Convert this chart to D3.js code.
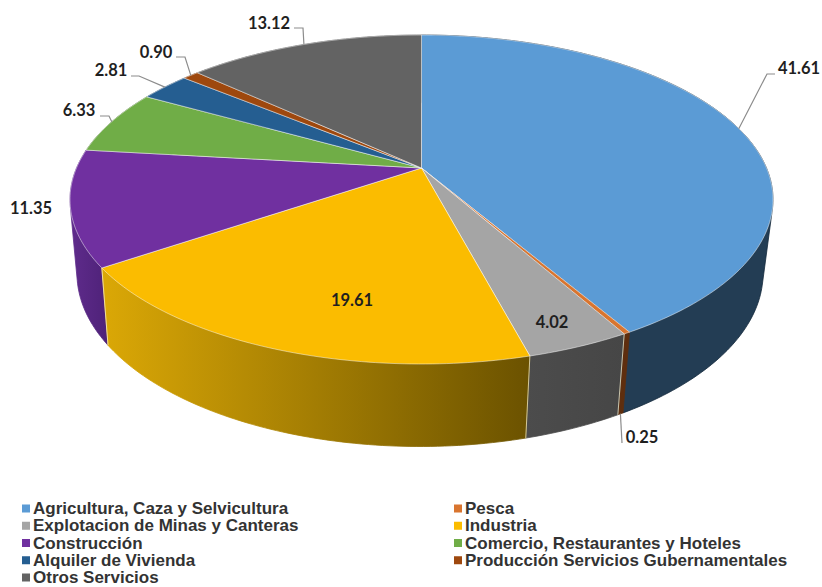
<!DOCTYPE html>
<html>
<head>
<meta charset="utf-8">
<script src="https://cdn.jsdelivr.net/npm/d3@7"></script>
<style>
  html, body { margin: 0; background: #fff; }
  svg { display: block; }
  .value { font-family: Lato, sans-serif; font-weight: 700; font-size: 16.5px; fill: #1f1f1f; }
  .legend { font-family: "Liberation Sans", sans-serif; font-weight: 700; font-size: 17px; fill: #333; }
</style>
</head>
<body>
<svg id="chart" width="822" height="587"></svg>
<script>
const categories = [
  "Agricultura, Caza y Selvicultura", "Pesca",
  "Explotacion de Minas y Canteras", "Industria",
  "Construcción", "Comercio, Restaurantes y Hoteles",
  "Alquiler de Vivienda", "Producción Servicios Gubernamentales",
  "Otros Servicios"
];
const values = [41.61, 0.25, 4.02, 19.61, 11.35, 6.33, 2.81, 0.90, 13.12];
const topColors = ["#5b9bd5", "#d9752f", "#a5a5a5", "#fbbc00", "#7030a0", "#70ad47", "#255e91", "#9e480e", "#636363"];
const sideFrom = ["#233d54", "#5e2e0e", "#4c4c4c", "#dba806", "#5f2b8c", "#4f7a32", "#1a4268", "#6a3009", "#444"];
const sideTo = ["#233d54", "#5e2e0e", "#464646", "#6b5200", "#4e2278", "#4f7a32", "#1a4268", "#6a3009", "#444"];

// label placement: text centre, then the leader's elbow points (none = no leader)
const labelSpots = [
  { x: 799, y: 68, elbow: [[767, 74], [775, 74]] },
  { x: 642, y: 437, elbow: [[622, 443]] },
  { x: 552, y: 322 },
  { x: 352, y: 300 },
  { x: 31, y: 208 },
  { x: 79, y: 110, elbow: [[109, 116], [100, 116]] },
  { x: 111, y: 70, elbow: [[139, 76], [131, 76]] },
  { x: 156, y: 52, elbow: [[185, 57], [176, 57]] },
  { x: 269, y: 23, elbow: [[303, 28], [294, 28]] }
];

const svg = d3.select("#chart");
const defs = svg.append("defs");
const color = d3.scaleOrdinal(categories, topColors);

const slices = d3.pie().value(d => d).sort(null).startAngle(0).endAngle(2 * Math.PI)(values);

// perspective disc: angle 0 is at the back, clockwise as seen from above
const persp = -0.1915;
function disc(cx, k, a, b) {
  return t => {
    const u = Math.sin(t), v = -Math.cos(t), w = 1 + persp * v;
    return [cx + k * u / w, (a * v + b) / w];
  };
}
const topRim = disc(421.5, 345, 126.3, 168);
const bottomRim = disc(420, 336.7, 121, 240);
const apex = [421.5, 168];

function arcPoints(rim, s) {
  const n = Math.max(2, Math.ceil((s.endAngle - s.startAngle) * 60));
  return d3.range(n + 1).map(i => rim(s.startAngle + (s.endAngle - s.startAngle) * i / n));
}
const line = d3.line();

// side wall, front slices over back ones
const sideOrder = d3.range(slices.length).sort((i, j) => {
  const depth = s => -Math.cos((s.startAngle + s.endAngle) / 2);
  return depth(slices[i]) - depth(slices[j]);
});
sideOrder.forEach(i => {
  const s = slices[i];
  const hull = d3.polygonHull(arcPoints(topRim, s).concat(arcPoints(bottomRim, s)));
  const xs = hull.map(p => p[0]);
  const grad = defs.append("linearGradient")
    .attr("id", "side" + i)
    .attr("gradientUnits", "userSpaceOnUse")
    .attr("x1", d3.min(xs)).attr("x2", d3.max(xs)).attr("y1", 0).attr("y2", 0);
  grad.append("stop").attr("offset", 0).attr("stop-color", sideFrom[i]);
  grad.append("stop").attr("offset", 1).attr("stop-color", sideTo[i]);
  svg.append("path")
    .attr("d", line(hull) + "Z")
    .attr("fill", `url(#side${i})`)
    .attr("stroke", i === 0 ? "#13283b" : `url(#side${i})`)
    .attr("stroke-width", 0.8);
});

// pale seams where the front wall changes colour
[2, 3, 4].forEach(i => {
  const t = slices[i].startAngle;
  svg.append("path")
    .attr("d", line([topRim(t), bottomRim(t)]))
    .attr("stroke", "rgba(255,250,215,0.7)")
    .attr("stroke-width", 1)
    .attr("fill", "none");
});

// top face
slices.forEach((s, i) => {
  svg.append("path")
    .attr("d", line([apex, ...arcPoints(topRim, s)]) + "Z")
    .attr("fill", color(categories[i]))
    .attr("stroke", "rgba(255,255,255,0.6)")
    .attr("stroke-width", 0.8)
    .attr("stroke-linejoin", "round");
});

// leaders and value labels
slices.forEach((s, i) => {
  const spot = labelSpots[i];
  if (spot.elbow) {
    const mid = (s.startAngle + s.endAngle) / 2;
    const start = i === 1 ? bottomRim(mid) : topRim(mid);
    svg.append("path")
      .attr("d", line([start, ...spot.elbow]))
      .attr("fill", "none")
      .attr("stroke", "#8c8c8c")
      .attr("stroke-width", 1.2);
  }
  svg.append("text")
    .attr("class", "value")
    .attr("x", spot.x)
    .attr("y", spot.y)
    .attr("text-anchor", "middle")
    .attr("dominant-baseline", "central")
    .text(values[i].toFixed(2));
});

// legend, two columns
const legendCol = d3.scalePoint().domain([0, 1]).range([22, 454]);
const legendRow = d3.scaleLinear().domain([0, 4]).range([508.5, 577.5]);
categories.forEach((name, i) => {
  const x = legendCol(i % 2), y = legendRow(Math.floor(i / 2));
  svg.append("rect")
    .attr("x", x).attr("y", y - 4)
    .attr("width", 8).attr("height", 8)
    .attr("fill", color(name));
  svg.append("text")
    .attr("class", "legend")
    .attr("x", x + 11).attr("y", y)
    .attr("dominant-baseline", "central")
    .text(name);
});
</script>
</body>
</html>
